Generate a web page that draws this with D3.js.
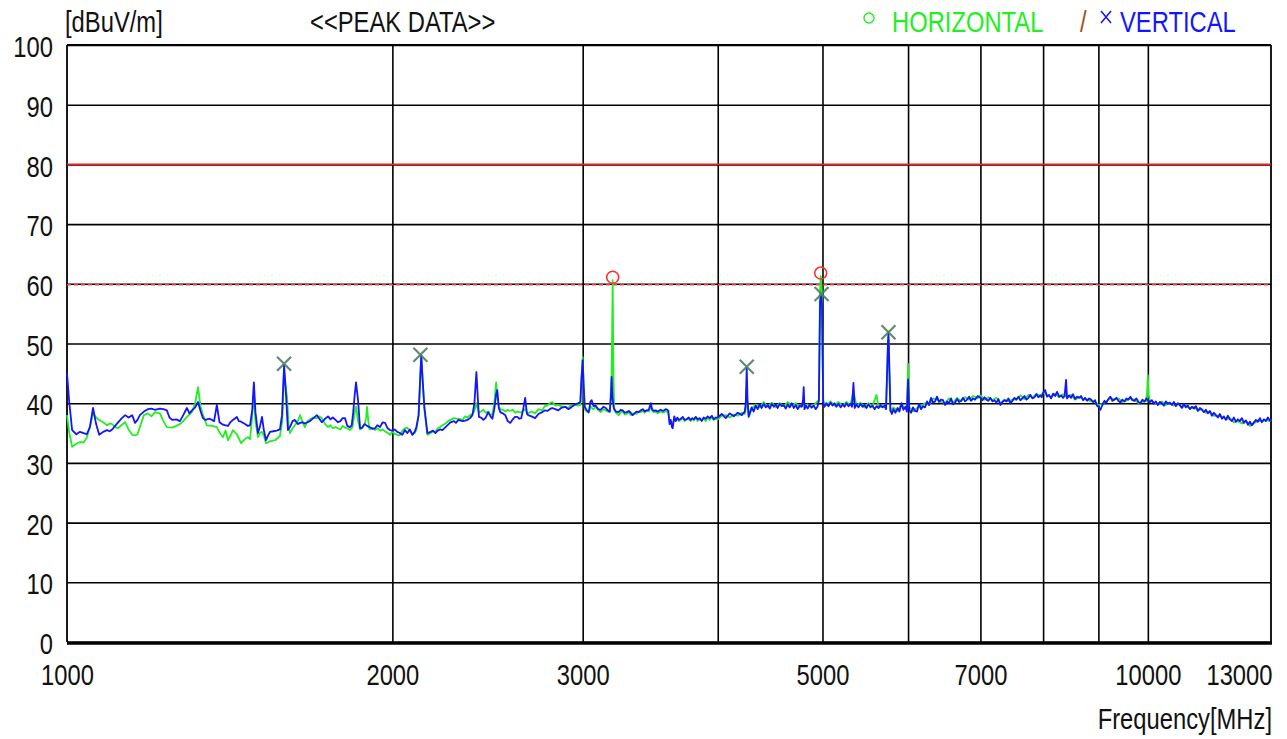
<!DOCTYPE html>
<html><head><meta charset="utf-8">
<script src="https://cdn.jsdelivr.net/npm/d3@7"></script>
<style>
html,body{margin:0;padding:0;background:#fff;}
svg{display:block;font-family:"Liberation Sans",Arial,sans-serif;}
</style></head>
<body>
<svg id="chart" width="1287" height="739"></svg>
<script>
// ---- data ----
const yTicks = [0,10,20,30,40,50,60,70,80,90,100];
const gridFreqs = [2000,3000,4000,5000,6000,7000,8000,9000,10000];
const labelFreqs = [1000,2000,3000,5000,7000,10000,13000];
const limitSolid = 80;
const limitDashed = 60;

// HORIZONTAL [MHz, dBuV/m]
const horizontal = [[1000,38.0],[1005,35.0],[1011,32.7],[1020,33.2],[1028,33.5],[1036,33.4],[1043,34.2],[1050,36.0],[1057,38.3],[1064,37.6],[1071,37.2],[1080,36.8],[1089,36.3],[1095,36.6],[1101,36.5],[1108,36.0],[1115,35.8],[1124,36.4],[1132,36.8],[1140,35.6],[1149,34.7],[1156,34.6],[1162,34.8],[1168,36.0],[1178,38.0],[1188,38.3],[1197,37.8],[1206,38.5],[1219,38.3],[1228,37.0],[1237,36.0],[1251,35.9],[1262,36.2],[1272,36.5],[1281,37.0],[1291,37.7],[1305,38.5],[1314,40.0],[1322,42.7],[1329,39.5],[1336,38.0],[1347,36.3],[1362,36.2],[1376,36.0],[1385,35.0],[1394,34.3],[1402,35.4],[1409,33.8],[1416,34.5],[1424,35.5],[1436,34.8],[1449,33.3],[1461,34.0],[1470,34.3],[1477,34.0],[1484,38.0],[1489,41.7],[1494,37.0],[1502,34.3],[1508,35.0],[1515,35.2],[1521,34.6],[1528,33.3],[1541,33.6],[1558,33.8],[1574,34.5],[1582,37.0],[1588,45.6],[1593,43.0],[1598,41.0],[1604,36.0],[1608,35.0],[1617,35.8],[1625,36.3],[1635,37.0],[1643,38.0],[1652,36.8],[1660,36.0],[1669,37.0],[1678,37.3],[1690,37.6],[1703,37.5],[1712,37.8],[1721,37.5],[1733,36.5],[1744,36.0],[1753,36.3],[1762,35.8],[1772,36.0],[1781,35.8],[1790,35.6],[1799,36.2],[1808,35.9],[1817,35.8],[1827,35.5],[1837,36.0],[1846,38.5],[1851,39.4],[1859,37.0],[1867,35.6],[1875,35.8],[1885,36.5],[1891,37.5],[1895,39.4],[1900,37.0],[1905,35.6],[1916,35.9],[1927,35.5],[1937,35.8],[1948,35.4],[1959,35.6],[1969,35.3],[1980,35.0],[1990,34.7],[2000,35.2],[2010,34.9],[2021,34.7],[2032,34.6],[2043,35.4],[2054,35.8],[2065,35.9],[2076,35.3],[2087,34.8],[2097,35.0],[2105,35.5],[2115,38.0],[2122,44.0],[2127,47.8],[2133,44.0],[2141,39.0],[2155,34.7],[2170,35.0],[2181,35.3],[2192,35.2],[2203,35.8],[2214,36.0],[2225,36.3],[2240,36.6],[2252,37.0],[2263,37.2],[2280,37.5],[2290,37.4],[2302,37.4],[2322,37.2],[2335,37.8],[2347,37.6],[2360,38.0],[2372,38.2],[2382,38.7],[2392,40.0],[2400,39.0],[2405,38.4],[2416,38.6],[2428,38.9],[2440,38.4],[2453,38.6],[2465,38.0],[2475,38.2],[2485,40.0],[2495,43.5],[2501,41.0],[2509,39.5],[2517,39.0],[2530,38.9],[2544,38.6],[2557,38.9],[2571,38.7],[2585,38.9],[2597,38.4],[2610,38.6],[2621,38.5],[2632,38.4],[2643,38.8],[2654,39.0],[2664,38.5],[2671,38.3],[2690,38.6],[2711,38.3],[2730,39.0],[2752,38.8],[2767,39.5],[2782,39.6],[2797,40.0],[2811,40.2],[2830,39.6],[2848,39.7],[2865,39.5],[2891,39.4],[2910,39.2],[2922,39.6],[2940,39.5],[2953,39.8],[2970,39.6],[2985,39.7],[2992,44.0],[3000,47.7],[3006,43.0],[3013,39.0],[3026,38.6],[3039,38.4],[3050,39.5],[3058,39.2],[3070,39.0],[3084,39.4],[3100,38.9],[3117,38.5],[3135,39.0],[3151,38.8],[3165,38.6],[3178,38.5],[3191,45.0],[3198,60.6],[3203,45.0],[3208,38.9],[3220,38.4],[3239,38.0],[3253,38.5],[3267,38.6],[3281,38.1],[3295,38.2],[3310,38.5],[3323,38.0],[3337,38.2],[3350,38.3],[3365,38.2],[3380,38.6],[3395,38.5],[3410,38.7],[3424,38.4],[3438,38.8],[3454,38.6],[3468,39.5],[3478,38.8],[3490,38.5],[3505,38.6],[3520,38.3],[3542,38.6],[3560,38.4],[3580,38.7],[3592,38.5],[3600,38.4],[3610,37.0],[3619,37.0],[3628,36.8],[3634,36.6],[3646,37.3],[3658,37.2],[3670,37.4],[3681,37.0],[3697,37.2],[3713,37.5],[3728,37.0],[3744,37.4],[3760,37.3],[3776,37.0],[3790,37.4],[3801,37.1],[3817,37.5],[3833,37.0],[3850,37.3],[3866,37.2],[3882,37.4],[3899,37.0],[3915,37.6],[3932,37.2],[3950,37.6],[3966,37.2],[3983,37.4],[4000,37.3],
[4034,37.9],[4069,38.0],[4104,37.6],[4139,38.1],[4174,37.9],[4210,38.4],[4237,38.2],[4246,39.0],[4255,42.7],[4262,39.5],[4273,37.6],[4300,39.0],[4337,39.8],[4374,39.3],[4412,40.2],[4450,39.4],[4488,40.1],[4526,39.3],[4565,40.0],[4604,39.5],[4643,40.2],[4683,39.6],[4723,40.0],[4763,39.3],[4784,39.6],[4797,40.0],[4804,41.0],[4812,39.4],[4845,39.8],[4886,39.2],[4928,40.0],[4962,40.5],[4972,58.0],[4981,61.3],[4992,59.0],[5008,40.3],[5043,39.7],[5086,40.3],[5129,39.6],[5173,40.2],[5218,39.6],[5262,40.2],[5307,39.7],[5341,42.0],[5376,39.6],[5422,40.1],[5468,39.3],[5515,40.0],[5562,39.4],[5586,40.5],[5610,41.4],[5634,39.2],[5682,39.5],[5725,39.3],[5748,49.0],[5755,51.0],[5762,47.0],[5779,38.6],[5816,39.3],[5866,38.7],[5916,39.8],[5967,39.0],[5985,39.0],[6000,46.6],[6015,39.4],[6064,38.6],[6116,39.2],[6168,39.5],[6221,40.0],[6275,39.7],[6328,40.8],[6382,40.6],[6436,40.2],[6492,40.0],[6548,40.8],[6604,40.1],[6661,40.9],[6718,40.3],[6775,41.0],[6833,40.6],[6891,41.2],[6960,40.8],[7000,41.3],[7060,40.6],[7120,41.0],[7181,40.5],[7243,40.9],[7305,40.0],[7367,40.6],[7430,40.3],[7494,40.6],[7558,40.6],[7623,41.3],[7688,40.7],[7754,41.4],[7820,40.9],[7887,41.6],[7954,41.2],[8000,41.8],[8068,41.3],[8137,41.0],[8207,41.6],[8277,41.0],[8348,41.5],[8419,41.0],[8491,41.4],[8564,40.6],[8638,41.0],[8712,40.7],[8786,40.6],[8861,40.3],[8937,40.2],[9000,39.7],[9077,39.9],[9155,40.3],[9233,40.9],[9312,40.6],[9392,40.8],[9472,40.2],[9553,40.4],[9635,40.8],[9718,40.6],[9801,40.0],[9885,40.2],[9960,40.3],[9985,42.0],[10000,44.7],[10015,41.5],[10043,40.5],[10129,40.1],[10215,39.9],[10303,40.3],[10391,39.7],[10480,40.1],[10570,39.6],[10660,39.9],[10752,39.3],[10844,39.6],[10937,39.1],[11031,39.4],[11125,38.8],[11220,39.0],[11316,38.4],[11413,38.6],[11511,37.9],[11610,37.9],[11709,37.7],[11809,37.3],[11910,37.5],[12012,36.8],[12115,37.0],[12219,36.6],[12323,37.1],[12429,36.2],[12535,36.6],[12643,37.1],[12751,37.0],[12860,37.2],[12970,37.0],[13000,37.3]];

// VERTICAL [MHz, dBuV/m]
const vertical = [[1000,45.0],[1005,40.0],[1011,35.5],[1020,34.8],[1028,35.2],[1036,35.0],[1043,34.8],[1050,36.0],[1057,39.2],[1064,36.5],[1071,34.7],[1080,35.2],[1089,35.5],[1095,35.3],[1101,35.6],[1108,36.2],[1115,36.8],[1124,37.5],[1132,38.0],[1140,37.6],[1149,38.0],[1156,36.7],[1162,37.2],[1168,38.0],[1178,38.6],[1188,39.0],[1197,39.1],[1206,38.9],[1219,39.1],[1228,39.0],[1237,38.8],[1244,37.6],[1251,37.2],[1262,37.3],[1272,37.0],[1281,38.0],[1291,39.2],[1298,38.3],[1305,38.8],[1314,39.3],[1322,40.2],[1329,38.7],[1336,37.5],[1343,37.2],[1355,37.4],[1368,37.0],[1376,39.7],[1384,36.8],[1394,36.4],[1402,36.3],[1409,36.2],[1416,36.8],[1424,37.2],[1436,37.7],[1442,37.0],[1449,36.9],[1461,36.5],[1470,36.2],[1477,36.3],[1484,39.0],[1489,43.5],[1494,38.5],[1502,35.0],[1508,36.0],[1515,37.7],[1521,35.5],[1528,33.8],[1535,34.6],[1541,35.2],[1552,35.3],[1563,35.4],[1574,35.6],[1581,38.0],[1588,46.4],[1595,41.0],[1601,35.5],[1608,36.0],[1617,37.0],[1625,37.2],[1635,36.5],[1643,36.7],[1652,36.8],[1660,36.6],[1669,36.8],[1678,37.0],[1690,37.5],[1703,38.0],[1712,37.4],[1721,36.8],[1733,37.4],[1744,37.8],[1753,37.3],[1762,37.6],[1772,37.2],[1781,36.8],[1790,37.0],[1799,37.5],[1808,37.5],[1817,36.2],[1827,36.0],[1834,36.3],[1840,38.5],[1846,41.5],[1851,43.5],[1859,40.5],[1867,35.8],[1875,35.9],[1885,36.5],[1895,36.2],[1905,36.0],[1916,35.7],[1927,35.8],[1937,36.3],[1948,36.0],[1959,36.8],[1969,36.7],[1980,35.8],[1990,35.5],[2000,35.4],[2010,35.6],[2021,35.2],[2032,35.0],[2043,34.7],[2054,35.5],[2065,35.0],[2076,35.6],[2087,34.7],[2097,35.2],[2105,36.0],[2115,38.0],[2122,44.0],[2127,48.1],[2133,44.0],[2141,39.4],[2155,35.0],[2170,35.2],[2181,35.4],[2192,35.0],[2203,35.4],[2214,35.6],[2225,35.5],[2240,36.0],[2252,36.4],[2263,36.8],[2280,37.0],[2290,36.7],[2302,37.2],[2322,37.0],[2335,37.1],[2347,37.2],[2360,37.5],[2372,38.0],[2382,40.0],[2392,45.2],[2400,40.5],[2405,37.7],[2416,37.6],[2428,37.2],[2440,37.6],[2453,38.5],[2465,37.8],[2475,37.4],[2485,39.0],[2495,41.5],[2501,42.2],[2509,39.2],[2517,38.5],[2530,38.3],[2544,38.0],[2557,37.0],[2571,36.7],[2585,37.3],[2597,37.7],[2610,37.7],[2621,37.4],[2632,37.5],[2643,39.0],[2654,40.9],[2664,38.2],[2671,38.0],[2690,37.8],[2711,37.5],[2730,38.2],[2752,38.5],[2767,38.8],[2782,38.7],[2797,39.0],[2811,39.2],[2830,39.0],[2848,38.8],[2865,39.2],[2891,39.4],[2910,39.0],[2922,39.2],[2940,39.6],[2953,39.8],[2970,40.0],[2985,40.2],[2992,44.0],[3000,47.2],[3006,43.0],[3013,39.4],[3026,38.8],[3039,38.5],[3050,40.3],[3058,40.5],[3070,39.5],[3084,39.6],[3100,39.0],[3117,38.9],[3135,39.4],[3151,39.2],[3165,38.8],[3178,38.6],[3186,41.0],[3191,44.4],[3196,41.0],[3205,39.2],[3220,38.6],[3239,38.5],[3253,38.9],[3267,38.8],[3281,38.4],[3295,38.5],[3310,38.7],[3323,38.4],[3337,38.0],[3350,38.3],[3365,38.6],[3380,38.5],[3395,38.8],[3410,39.0],[3424,38.6],[3438,38.8],[3454,38.9],[3468,40.0],[3478,39.0],[3490,38.7],[3505,38.8],[3520,38.6],[3542,38.9],[3560,38.7],[3580,39.0],[3592,38.9],[3600,38.7],[3610,36.5],[3619,37.2],[3628,36.0],[3634,35.8],[3646,37.8],[3658,37.0],[3670,37.6],[3681,37.2],[3697,37.4],[3713,37.7],[3728,37.2],[3744,37.3],[3760,37.6],[3776,37.2],[3790,37.5],[3801,37.3],[3817,37.7],[3833,37.3],[3850,37.5],[3866,37.0],[3882,37.6],[3899,37.4],[3915,37.8],[3932,37.5],[3950,37.9],[3966,37.3],[3983,37.6],[4000,37.6],
[4034,38.2],[4069,37.5],[4104,38.3],[4139,37.8],[4174,38.4],[4210,38.0],[4237,38.6],[4246,40.0],[4255,45.9],[4262,40.5],[4273,37.8],[4300,39.3],[4318,38.6],[4337,39.6],[4355,39.0],[4374,39.8],[4393,39.2],[4412,39.9],[4431,39.3],[4450,39.7],[4469,39.1],[4488,39.9],[4507,39.4],[4526,39.8],[4545,39.2],[4565,39.9],[4584,39.5],[4604,39.7],[4623,39.1],[4643,39.8],[4663,39.3],[4683,40.0],[4703,39.2],[4723,39.7],[4743,39.0],[4763,39.6],[4784,39.4],[4797,40.5],[4804,42.7],[4812,39.0],[4825,39.6],[4845,39.1],[4866,39.8],[4886,39.3],[4907,39.6],[4928,39.0],[4949,39.5],[4962,40.5],[4975,57.0],[4985,58.0],[4995,56.5],[5008,40.0],[5021,39.4],[5043,40.0],[5064,39.5],[5086,40.1],[5108,39.6],[5129,40.0],[5151,39.4],[5173,39.9],[5196,39.3],[5218,39.8],[5240,39.4],[5262,40.0],[5285,39.5],[5307,39.9],[5325,39.4],[5341,43.4],[5355,39.2],[5376,39.8],[5399,39.3],[5422,39.9],[5445,39.4],[5468,39.7],[5491,39.2],[5515,39.8],[5538,39.3],[5562,39.6],[5586,39.0],[5610,39.5],[5634,39.2],[5658,39.7],[5682,39.3],[5706,39.6],[5725,39.0],[5748,50.0],[5755,51.9],[5762,48.0],[5779,38.8],[5797,38.2],[5816,39.0],[5841,38.4],[5866,39.2],[5891,38.6],[5916,40.0],[5941,38.9],[5967,39.4],[5985,38.6],[6000,44.0],
[6015,38.9],[6038,38.4],[6064,39.3],[6090,38.7],[6116,38.6],[6142,39.9],[6168,39.0],[6195,39.5],[6221,39.3],[6248,40.3],[6275,39.7],[6301,40.9],[6328,40.1],[6355,40.3],[6382,41.1],[6409,40.2],[6436,40.6],[6464,40.5],[6492,39.7],[6520,40.3],[6548,40.0],[6576,40.8],[6604,39.8],[6632,40.1],[6661,40.7],[6689,40.2],[6718,40.4],[6746,40.9],[6775,40.3],[6804,40.6],[6833,41.1],[6862,40.4],[6891,40.8],[6920,40.6],[6960,41.2],[7000,40.9],[7030,40.5],[7060,41.0],[7090,40.6],[7120,40.4],[7150,40.9],[7181,40.3],[7212,40.5],[7243,40.1],[7274,40.7],[7305,39.7],[7336,40.2],[7367,40.5],[7398,40.3],[7430,40.8],[7462,40.0],[7494,40.4],[7526,40.9],[7558,40.6],[7590,41.1],[7623,40.5],[7655,40.8],[7688,41.2],[7721,40.6],[7754,40.9],[7787,41.4],[7820,40.8],[7853,41.0],[7887,41.5],[7920,41.0],[7954,41.3],[7977,41.0],[8000,41.7],[8034,42.2],[8068,41.1],[8102,41.4],[8137,40.8],[8172,41.6],[8207,41.2],[8242,41.9],[8277,41.1],[8312,41.3],[8348,40.9],[8375,41.2],[8401,43.9],[8419,40.8],[8455,41.3],[8491,40.9],[8527,41.5],[8564,40.7],[8601,41.1],[8638,40.9],[8675,41.2],[8712,40.5],[8749,40.9],[8786,40.4],[8824,40.8],[8861,40.6],[8899,40.2],[8937,40.5],[8970,39.6],[9000,39.4],[9040,38.9],[9077,39.7],[9116,40.4],[9155,40.1],[9194,40.7],[9233,41.1],[9272,40.4],[9312,40.6],[9352,40.9],[9392,40.4],[9432,40.1],[9472,40.6],[9512,40.3],[9553,40.8],[9594,40.6],[9635,41.1],[9676,40.5],[9718,40.4],[9759,40.8],[9801,40.2],[9843,40.0],[9885,40.6],[9930,40.3],[9970,40.8],[10000,40.5],[10043,40.2],[10086,40.5],[10129,39.9],[10172,40.3],[10215,39.7],[10259,40.2],[10303,40.0],[10347,39.6],[10391,40.3],[10436,39.9],[10480,40.1],[10525,39.7],[10570,40.2],[10615,39.5],[10660,40.0],[10706,39.7],[10752,39.2],[10798,39.9],[10844,39.3],[10890,39.6],[10937,39.0],[10984,39.4],[11031,39.1],[11078,39.5],[11125,38.7],[11173,39.2],[11220,38.9],[11268,38.5],[11316,38.9],[11365,38.3],[11413,38.7],[11462,37.9],[11511,38.4],[11560,38.0],[11610,37.6],[11659,38.2],[11709,37.4],[11759,37.8],[11809,37.2],[11860,37.9],[11910,37.3],[11961,37.0],[12012,37.6],[12064,36.9],[12115,37.3],[12167,37.0],[12219,37.5],[12271,36.7],[12323,37.1],[12376,36.4],[12429,36.9],[12482,36.3],[12535,36.8],[12589,37.2],[12643,36.9],[12697,37.5],[12751,36.8],[12806,37.3],[12860,37.0],[12915,37.6],[12970,37.1],[13000,37.4]];

// peak markers
const hPeaks = [[3198,61.1],[4981,61.8]];
const vPeaks = [[1588,46.6],[2123,48.1],[4255,46.1],[4990,58.3],[5755,51.9]];

// ---- drawing ----
const svg = d3.select("#chart");
const L = 67, R = 1271, T = 45, B = 642;
const x = d3.scaleLog().domain([1000,13000]).range([L,R]);
const y = d3.scaleLinear().domain([0,100]).range([B,T]);
const FONT = 29, SX = 0.82;
const FF = "Liberation Sans, Arial, sans-serif";

// horizontal grid + y labels
const gy = svg.append("g").attr("transform",`translate(${L},0)`)
  .call(d3.axisLeft(y).tickValues(yTicks).tickSize(-(R-L)).tickFormat(d3.format("d")));
gy.select(".domain").remove();
gy.selectAll(".tick line").attr("stroke","#000").attr("stroke-width",1.6);
gy.selectAll(".tick text").attr("x",-14/SX).attr("dy","0.40em").attr("transform",`scale(${SX},1)`)
  .attr("font-size",FONT).attr("font-family",FF).attr("fill","#111");

// vertical grid
const gx = svg.append("g").attr("transform",`translate(0,${B})`)
  .call(d3.axisBottom(x).tickValues(gridFreqs).tickSize(-(B-T)).tickFormat(""));
gx.select(".domain").remove();
gx.selectAll(".tick line").attr("stroke","#000").attr("stroke-width",1.6);

// x labels
const gl = svg.append("g").attr("transform",`translate(0,${B})`)
  .call(d3.axisBottom(x).tickValues(labelFreqs).tickSize(0).tickFormat(d3.format("d")));
gl.select(".domain").remove();
gl.selectAll(".tick text").attr("y",43).attr("dy",0).attr("transform",`scale(${SX},1)`)
  .attr("font-size",FONT).attr("font-family",FF).attr("fill","#111")
  .attr("text-anchor",d=>d===13000?"end":"middle")
  .attr("x",d=>d===13000?1/SX:0);

// frame
svg.append("line").attr("x1",L).attr("x2",R).attr("y1",T).attr("y2",T).attr("stroke","#000").attr("stroke-width",1.8);
svg.append("line").attr("x1",R).attr("x2",R).attr("y1",T).attr("y2",B).attr("stroke","#000").attr("stroke-width",1.8);
svg.append("line").attr("x1",L).attr("x2",L).attr("y1",T).attr("y2",B).attr("stroke","#000").attr("stroke-width",1.8);
svg.append("line").attr("x1",L).attr("x2",R+1).attr("y1",B+1).attr("y2",B+1).attr("stroke","#000").attr("stroke-width",3.5);

// limit lines
svg.append("line").attr("x1",L).attr("x2",R).attr("y1",y(limitSolid)).attr("y2",y(limitSolid))
  .attr("stroke","#ff1a1a").attr("stroke-width",1.6);
svg.append("line").attr("x1",L).attr("x2",R).attr("y1",y(limitDashed)+1).attr("y2",y(limitDashed)+1)
  .attr("stroke","#ff3b3b").attr("stroke-width",1.5).attr("stroke-dasharray","4,3");

// traces
const line = d3.line().x(d=>x(d[0])).y(d=>y(d[1]));
svg.append("path").datum(horizontal).attr("d",line).attr("fill","none")
  .attr("stroke","#22ee22").attr("stroke-width",1.8).attr("stroke-linejoin","round");
svg.append("path").datum(vertical).attr("d",line).attr("fill","none")
  .attr("stroke","#1414ff").attr("stroke-width",1.8).attr("stroke-linejoin","round");

// markers
svg.selectAll("circle.hp").data(hPeaks).enter().append("circle")
  .attr("cx",d=>x(d[0])).attr("cy",d=>y(d[1])).attr("r",6)
  .attr("fill","none").attr("stroke","#ff3030").attr("stroke-width",1.6);
const s = 7;
const vp = svg.selectAll("g.vp").data(vPeaks).enter().append("g")
  .attr("transform",d=>`translate(${x(d[0])},${y(d[1])})`);
vp.append("path").attr("d",`M${-s},${-s}L${s},${s}M${-s},${s}L${s},${-s}`)
  .attr("stroke","#4f7f60").attr("stroke-width",2.2).attr("fill","none").attr("opacity",0.9);

// header texts
const txt = (xx,yy,t,col,anchor)=>svg.append("g").attr("transform",`translate(${xx},${yy}) scale(${SX},1)`)
  .append("text").text(t).attr("fill",col).attr("font-size",FONT).attr("text-anchor",anchor||"start")
  .attr("font-family",FF);
txt(65,32,"[dBuV/m]","#111");
txt(310,32,"<<PEAK DATA>>","#111");
svg.append("circle").attr("cx",869).attr("cy",18).attr("r",5).attr("fill","none").attr("stroke","#22ee22").attr("stroke-width",1.4);
txt(892,32,"HORIZONTAL","#22ee22");
txt(1080,32,"/","#a0501a");
svg.append("path").attr("d","M1101,11L1111,23M1101,23L1111,11").attr("stroke","#1414ff").attr("stroke-width",1.5);
txt(1120,32,"VERTICAL","#1414ff");
txt(1272,729,"Frequency[MHz]","#111","end");
</script>
</body></html>
